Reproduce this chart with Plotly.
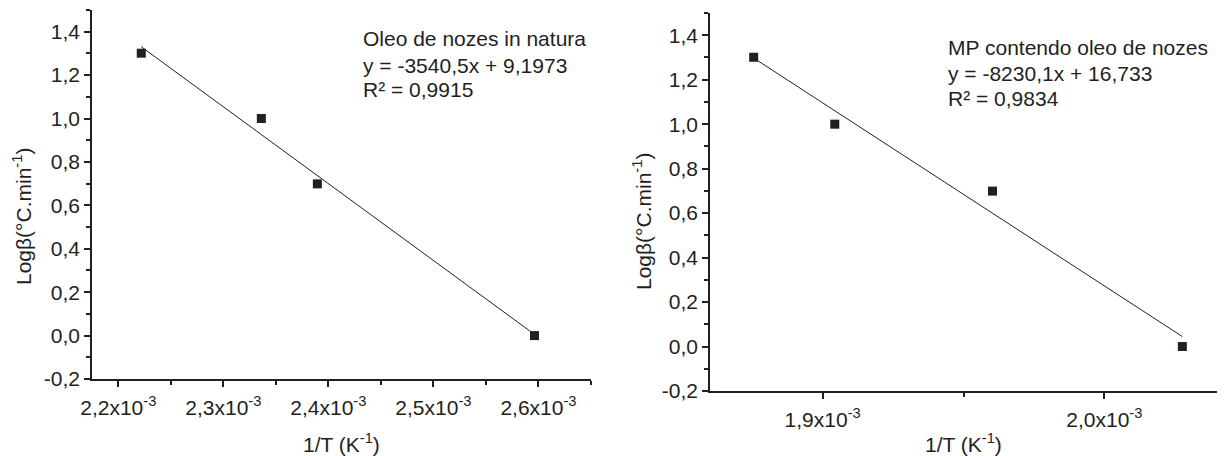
import numpy as np
import plotly.graph_objects as go

# ---- data ----
inv_T_left = [2.2219e-3, 2.3362e-3, 2.3895e-3, 2.5962e-3]
log_beta_left = [1.301, 1.0, 0.699, 0.0]
slope_left, intercept_left = -3540.5, 9.1973

inv_T_right = [1.8755e-3, 1.9043e-3, 1.9603e-3, 2.0277e-3]
log_beta_right = [1.301, 1.0, 0.699, 0.0]
slope_right, intercept_right = -8230.1, 16.733

label_left = ["Oleo de nozes in natura", "y = -3540,5x + 9,1973", "R² = 0,9915"]
label_right = ["MP contendo oleo de nozes", "y = -8230,1x + 16,733", "R² = 0,9834"]

x_tickvals_left = [2.2e-3, 2.3e-3, 2.4e-3, 2.5e-3, 2.6e-3]
x_ticktext_left = ["2,2x10<sup>-3</sup>", "2,3x10<sup>-3</sup>", "2,4x10<sup>-3</sup>",
                   "2,5x10<sup>-3</sup>", "2,6x10<sup>-3</sup>"]
x_tickvals_right = [1.9e-3, 2.0e-3]
x_ticktext_right = ["1,9x10<sup>-3</sup>", "2,0x10<sup>-3</sup>"]
y_tickvals = [-0.2, 0.0, 0.2, 0.4, 0.6, 0.8, 1.0, 1.2, 1.4]
y_ticktext = ["-0,2", "0,0", "0,2", "0,4", "0,6", "0,8", "1,0", "1,2", "1,4"]

W, H = 1224, 456
FONT = "Arial, 'Liberation Sans', sans-serif"
INK = "#231f20"
FS = 21

def px(x):
    return x / W

def py(y):
    return 1 - y / H

fig = go.Figure()

# fitted lines
xl = np.array([min(inv_T_left), max(inv_T_left)])
fig.add_trace(go.Scatter(x=xl, y=slope_left * xl + intercept_left, mode="lines",
                         line=dict(color=INK, width=1), xaxis="x", yaxis="y", showlegend=False))
fig.add_trace(go.Scatter(x=inv_T_left, y=log_beta_left, mode="markers",
                         marker=dict(symbol="square", size=9, color=INK),
                         xaxis="x", yaxis="y", showlegend=False))

xr = np.array([min(inv_T_right), max(inv_T_right)])
fig.add_trace(go.Scatter(x=xr, y=slope_right * xr + intercept_right, mode="lines",
                         line=dict(color=INK, width=1), xaxis="x2", yaxis="y2", showlegend=False))
fig.add_trace(go.Scatter(x=inv_T_right, y=log_beta_right, mode="markers",
                         marker=dict(symbol="square", size=9, color=INK),
                         xaxis="x2", yaxis="y2", showlegend=False))

axis_common = dict(showgrid=False, zeroline=False, showline=True, linecolor=INK, linewidth=1.5,
                   ticks="outside", ticklen=6, tickwidth=1.5, tickcolor=INK, automargin=False,
                   tickfont=dict(family=FONT, size=FS, color=INK))
minor_x = dict(ticks="outside", ticklen=4, tickwidth=1.5, tickcolor=INK, dtick=0.05e-3)
minor_y = dict(ticks="outside", ticklen=4, tickwidth=1.5, tickcolor=INK, dtick=0.1, tick0=0)

fig.update_layout(
    width=W, height=H, margin=dict(l=0, r=0, t=0, b=0),
    paper_bgcolor="white", plot_bgcolor="white",
    xaxis=dict(domain=[px(92), px(591)], anchor="y", range=[2.175e-3, 2.65e-3],
               tickmode="array", tickvals=x_tickvals_left, ticktext=x_ticktext_left,
               minor=dict(tick0=2.15e-3, **minor_x), ticklabelstandoff=3, **axis_common),
    yaxis=dict(domain=[py(379), py(10)], anchor="x", range=[-0.2, 1.5],
               tickmode="array", tickvals=y_tickvals, ticktext=y_ticktext,
               minor=minor_y, ticklabelstandoff=0, **axis_common),
    xaxis2=dict(domain=[px(710), px(1217)], anchor="y2", range=[1.86e-3, 2.04e-3],
                tickmode="array", tickvals=x_tickvals_right, ticktext=x_ticktext_right,
                minor=dict(tick0=1.85e-3, **minor_x), ticklabelstandoff=3, **axis_common),
    yaxis2=dict(domain=[py(391), py(13)], anchor="x2", range=[-0.2, 1.5],
                tickmode="array", tickvals=y_tickvals, ticktext=y_ticktext,
                minor=minor_y, ticklabelstandoff=0, **axis_common),
)

annos = []
# text blocks
for i, t in enumerate(label_left):
    annos.append(dict(x=px(361), y=py([39, 65, 89][i]), xref="paper", yref="paper", text=t,
                      showarrow=False, xanchor="left", yanchor="middle",
                      font=dict(family=FONT, size=FS, color=INK)))
for i, t in enumerate(label_right):
    annos.append(dict(x=px(946), y=py([47, 73, 99][i]), xref="paper", yref="paper", text=t,
                      showarrow=False, xanchor="left", yanchor="middle",
                      font=dict(family=FONT, size=FS, color=INK)))
# axis titles
for xc, yc in [(341, 443), (963, 443)]:
    annos.append(dict(x=px(xc), y=py(yc), xref="paper", yref="paper", text="1/T (K<sup>-1</sup>)",
                      showarrow=False, xanchor="center", yanchor="middle",
                      font=dict(family=FONT, size=FS, color=INK)))
for xc, yc in [(22, 217), (642, 222)]:
    annos.append(dict(x=px(xc), y=py(yc), xref="paper", yref="paper",
                      text="Logβ(°C.min<sup>-1</sup>)", textangle=-90,
                      showarrow=False, xanchor="center", yanchor="middle",
                      font=dict(family=FONT, size=FS, color=INK)))
fig.update_layout(annotations=annos)

fig.write_html("out.html")
